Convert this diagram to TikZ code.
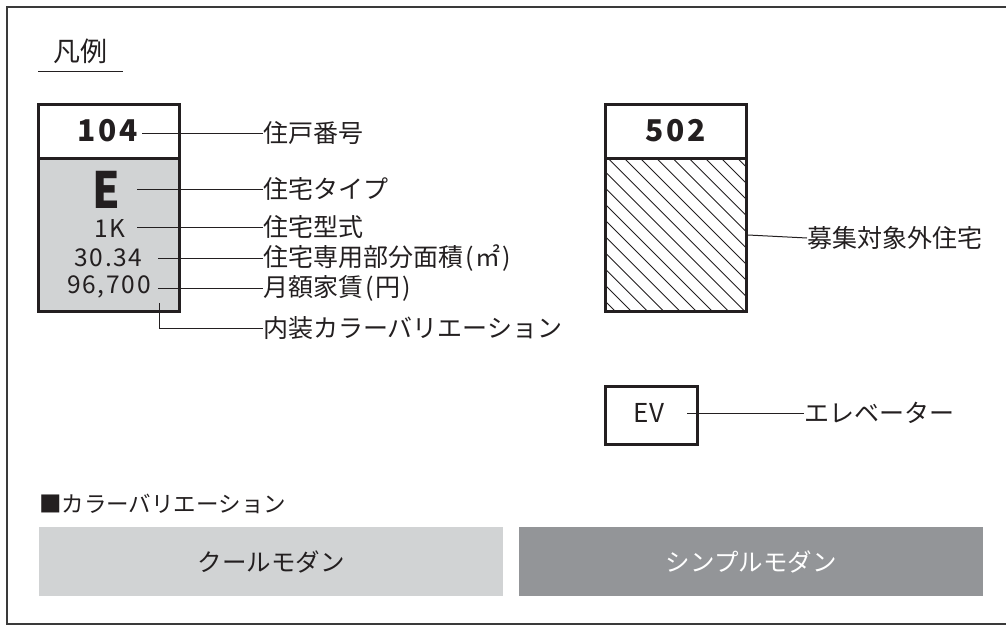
\documentclass[tikz,border=0pt]{standalone}
\usepackage{fontspec}
\setmainfont{Noto Sans CJK JP}
\newfontfamily\numfont[LetterSpace=9]{Noto Sans CJK JP}
\newfontfamily\smallnumfont[LetterSpace=7]{Noto Sans CJK JP}
\definecolor{lightg}{HTML}{D1D3D4}
\definecolor{darkg}{HTML}{939598}
\definecolor{ink}{HTML}{231F20}
\definecolor{framec}{HTML}{3A3A3A}
\begin{document}
\begin{tikzpicture}[x=1pt,y=-1pt,
  lbl/.style={anchor=west,inner sep=0pt,text=ink,font=\fontsize{25}{27}\selectfont},
  lead/.style={line width=1pt,draw=ink},
  cell/.style={draw=ink,line width=3pt,anchor=north west,inner sep=0pt,minimum width=141pt},
  num/.style={inner sep=0pt,text=ink,font=\fontsize{24.5}{26}\smallnumfont},
  bignum/.style={inner sep=0pt,text=ink,font=\fontsize{30}{32}\numfont\bfseries},
  swatch/.style={anchor=north west,inner sep=0pt,minimum width=464pt,minimum height=69pt,draw=none},
  swtext/.style={inner sep=0pt,font=\fontsize{24.5}{26}\selectfont}]
\useasboundingbox (0,0) rectangle (1006,626);
\draw[line width=1.5pt,draw=framec] (7,7) rectangle (1009,624);

% title
\node[inner sep=0pt,text=ink,font=\fontsize{27}{29}\selectfont] (title) at (80,51) {凡例};
\coordinate (ulA) at (38,71);
\coordinate (ulB) at (123,71);
\draw[line width=1pt,draw=ink] (ulA) -- (ulB);

% box 104
\node[cell,fill=lightg,minimum height=153pt] (b104) at (37,157) {};
\node[cell,fill=white,minimum height=54pt] (t104) at (37,103) {};
\node[bignum] (n104) at (108,131) {104};
\node[inner sep=0pt,text=ink,font=\fontsize{50}{52}\selectfont\bfseries] (nE) at (106.5,190) {\scalebox{0.88}[1]{E}};
\node[num] (n1K) at (110,229) {1K};
\node[num] (narea) at (108.5,258) {30.34};
\node[num] (nrent) at (109,287) {96,700};

\coordinate (s1) at (142,133);
\coordinate (s2) at (137,189);
\coordinate (s3) at (137,227);
\coordinate (s4) at (158,258);
\coordinate (s5) at (158,288);
\coordinate (s6) at (159,303);

\node[lbl] (l1) at (263,133) {住戸番号};
\node[lbl] (l2) at (263,189) {住宅タイプ};
\node[lbl] (l3) at (263,227) {住宅型式};
\node[lbl] (l4) at (263,258) {住宅専用部分面積\kern2.5pt(\kern1.5pt㎡\kern2pt)};
\node[lbl] (l5) at (263,288) {月額家賃\kern2.5pt(\kern1.5pt円\kern1.5pt)};
\node[lbl] (l6) at (263,328) {内装カラーバリエーション};

\draw[lead] (s1) -- (l1.west);
\draw[lead] (s2) -- (l2.west);
\draw[lead] (s3) -- (l3.west);
\draw[lead] (s4) -- (l4.west);
\draw[lead] (s5) -- (l5.west);
\draw[lead] (s6) |- (l6.west);

% box 502
\begin{scope}
\clip (604,157) rectangle (745,310);
\foreach \k in {-10,...,9}
  \draw[line width=0.9pt,draw=ink] ({606.7+16.2*\k},157) -- ++(170,170);
\end{scope}
\node[cell,minimum height=153pt] (b502) at (604,157) {};
\node[cell,fill=white,minimum height=54pt] (t502) at (604,103) {};
\node[bignum] (n502) at (676,131) {502};
\node[lbl] (l7) at (807,238) {募集対象外住宅};
\draw[lead] (b502.east) -- (l7.west);

% EV
\node[draw=ink,line width=3pt,inner sep=0pt,minimum width=92pt,minimum height=58pt,anchor=north west] (ev) at (604,385) {};
\node[inner sep=0pt,text=ink,font=\fontsize{26}{28}\selectfont] (evt) at (649,413) {EV};
\coordinate (s8) at (687,413);
\node[lbl] (l8) at (804,413) {エレベーター};
\draw[lead] (s8) -- (l8.west);

% colour variations
\node[anchor=west,inner sep=0pt,text=ink,font=\fontsize{22.5}{24}\selectfont] (cvh) at (39,504) {■カラーバリエーション};
\node[swatch,fill=lightg] (cool) at (39,527) {};
\node[swatch,fill=darkg] (simple) at (519,527) {};
\node[swtext,text=ink] (coolt) at (cool.center) {クールモダン};
\node[swtext,text=white] (simplet) at (simple.center) {シンプルモダン};
\end{tikzpicture}
\end{document}
